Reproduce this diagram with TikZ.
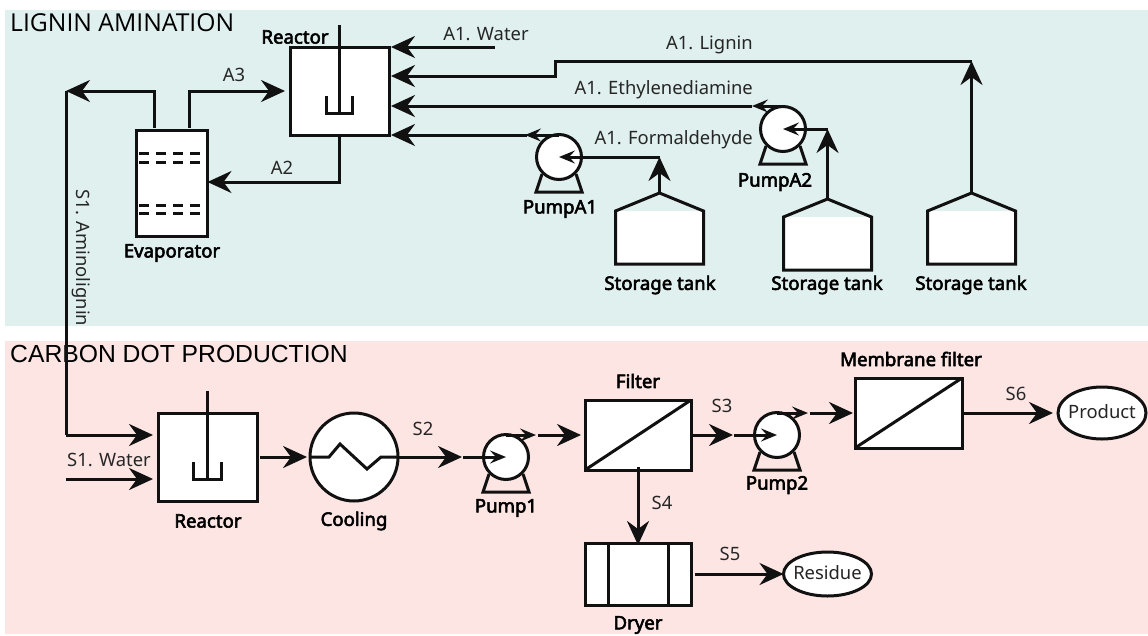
\documentclass[tikz,border=0pt]{standalone}
\usepackage{fontspec}
\setmainfont{Noto Sans}
\newfontfamily\namefont{Noto Sans}[FakeBold=3]
\newfontfamily\titleA{Open Sans}
\newfontfamily\titleB{Liberation Sans}
\usetikzlibrary{arrows.meta,calc,shapes.geometric}
\definecolor{bgA}{HTML}{E0F0EF}
\definecolor{bgB}{HTML}{FCE5E2}
\definecolor{ink}{HTML}{111111}
\tikzset{
  x=1pt,y=-1pt,
  line/.style={draw=ink,line width=3pt},
  flow/.style={line,-{Stealth[length=24pt,width=22pt,inset=8pt]}},
  smallflow/.style={line,-{Stealth[length=16pt,width=13pt,inset=6pt]}},
  unit/.style={draw=ink,line width=3pt,fill=white,inner sep=0pt,outer sep=0pt},
  boxunit/.style={unit,rectangle},
  pumpunit/.style={unit,circle,minimum size=45pt},
  lab/.style={inner sep=0pt,text=black!85,font=\fontsize{18.4}{20}\selectfont},
  name lab/.style={inner sep=0pt,text=black,font=\namefont\fontsize{18.6}{20}\selectfont},
  pumpfoot/.pic={\draw[line,line join=miter] (-17,17) -- (-23,35) -- (23,35) -- (17,17);},
  tankshape/.pic={
    \fill[white] (-44,18) rectangle (44,71);
    \draw[line,line join=miter] (-44,18) -- (0,0) -- (44,18) -- (44,71) -- (-44,71) -- cycle;},
}
\begin{document}
\begin{tikzpicture}
\useasboundingbox (0,0) rectangle (1148,635);
\fill[bgA] (5,10) rectangle (1148,326);
\fill[bgB] (5,341) rectangle (1148,634);

% section titles
\node[anchor=west,inner sep=0pt,font=\titleA\fontsize{24.7}{26}\selectfont] (t1) at (10,23) {LIGNIN AMINATION};
\node[anchor=west,inner sep=0pt,font=\titleB\fontsize{24.7}{26}\selectfont] (t2) at (10,354) {CARBON DOT PRODUCTION};

% ---------- lignin amination units
\node[boxunit,minimum width=99pt,minimum height=88pt] (r1) at (339.5,91) {};
\draw[line] (339,25) -- (339,113);
\draw[line] (326,96) -- (326,113) -- (352,113) -- (352,96);
\node[boxunit,minimum width=71pt,minimum height=106pt] (ev) at (172,183) {};
\foreach \yy in {153,162,205,213}
  \draw[line,dash pattern=on 10pt off 7pt] (139,\yy) -- (204,\yy);
\pic at (559,157) {pumpfoot};
\node[pumpunit] (pa1) at (559,157) {};
\pic at (783,129) {pumpfoot};
\node[pumpunit] (pa2) at (783,129) {};
\pic at (659.5,193) {tankshape};
\pic at (827.5,199) {tankshape};
\pic at (971.5,193) {tankshape};
\coordinate (tk1) at (659.5,193);
\coordinate (tk2) at (827.5,199);
\coordinate (tk3) at (971.5,193);

% ---------- lignin amination connectors
\coordinate (w0) at (495,47);
\coordinate (in1) at (391,47);
\coordinate (in2) at (391,76);
\coordinate (in3) at (391,106);
\coordinate (in4) at (391,135);
\coordinate (jog1) at (555,76);
\coordinate (jog2) at (555,61);
\coordinate (ligtop) at (971.5,61);
\coordinate (etend) at (752,106);
\coordinate (foend) at (527,135);
\coordinate (pa1top) at (559,135);
\coordinate (pa2top) at (783,106);
\coordinate (tk1top) at (659.5,157);
\coordinate (tk2top) at (827.5,129);
\coordinate (ev3) at (189,128);
\coordinate (ev4) at (154,128);
\coordinate (a3up) at (189,91);
\coordinate (a3end) at (285,91);
\coordinate (s1up) at (154,91);
\coordinate (s1corner) at (66,91);
\coordinate (s1low) at (66,435);
\coordinate (a2mid) at (339.5,182);

\draw[flow] (w0) -- (in1);
\draw[flow] (ligtop) -- (jog2) -- (jog1) -- (in2);
\draw[flow] (etend) -- (in3);
\draw[flow] (foend) -- (in4);
\draw[smallflow] (pa1top) -- ([xshift=-2pt]foend);
\draw[smallflow] (pa2top) -- (etend);
\draw[smallflow] (tk1top) -- (pa1.center);
\draw[smallflow] (tk2top) -- (pa2.center);
\draw[flow] (tk1) -- (tk1top);
\draw[flow] (tk2) -- (tk2top);
\draw[flow] (tk3) -- (ligtop);
\draw[flow] (r1.south) -- (a2mid) -- (ev.east |- a2mid);
\draw[flow] (ev3) -- (a3up) -- (a3end);
\draw[flow] (ev4) -- (s1up) -- (s1corner);

% ---------- carbon dot units
\node[boxunit,minimum width=99pt,minimum height=88pt] (r2) at (207.5,457) {};
\draw[line] (207,391) -- (207,479);
\draw[line] (193,462) -- (193,479) -- (221,479) -- (221,462);
\node[unit,circle,minimum size=88pt] (cool) at (354,457) {};
\draw[line] (cool.west) -- (329,457) -- (340,444) -- (367,469) -- (381,457) -- (cool.east);
\pic at (506,457) {pumpfoot};
\node[pumpunit] (p1) at (506,457) {};
\node[boxunit,minimum width=106pt,minimum height=70pt] (f1) at (638,435) {};
\draw[line] (f1.south west) -- (f1.north east);
\pic at (777,435) {pumpfoot};
\node[pumpunit] (p2) at (777,435) {};
\node[boxunit,minimum width=107pt,minimum height=70pt] (f2) at (908.5,413) {};
\draw[line] (f2.south west) -- (f2.north east);
\node[boxunit,minimum width=106pt,minimum height=62pt] (dry) at (638,574) {};
\draw[line] (608,543) -- (608,605);
\draw[line] (668,543) -- (668,605);
\node[unit,ellipse,minimum width=88pt,minimum height=52pt] (prod) at (1102,413) {};
\node[unit,ellipse,minimum width=88pt,minimum height=44pt] (res) at (827.5,574) {};
\node[lab] (prodt) at (1102,412) {Product};
\node[lab] (rest) at (827.5,573) {Residue};

% ---------- carbon dot connectors
\coordinate (w1) at (66,479);
\coordinate (r2a) at (153,435);
\coordinate (r2b) at (153,479);
\coordinate (s2b) at (462,457);
\coordinate (p1top) at (506,435);
\coordinate (p1out) at (536,435);
\coordinate (p1next) at (538,435);
\coordinate (s3b) at (733,435);
\coordinate (p2top) at (777,413);
\coordinate (p2out) at (808,413);
\coordinate (p2next) at (810,413);

\draw[line] (s1corner) -- (s1low);
\draw[flow] (s1low) -- (r2a);
\draw[flow] (w1) -- (r2b);
\draw[flow] ([xshift=3pt]r2.east) -- ([xshift=-3pt]cool.west);
\draw[flow] (cool.east) -- (s2b);
\draw[smallflow] ([xshift=1pt]s2b) -- (p1.center);
\draw[smallflow] (p1top) -- (p1out);
\draw[flow] (p1next) -- ([xshift=-4pt]f1.west);
\draw[flow] (f1.east) -- (s3b);
\draw[smallflow] ([xshift=1pt]s3b) -- (p2.center);
\draw[smallflow] (p2top) -- (p2out);
\draw[flow] (p2next) -- ([xshift=-2pt]f2.west);
\draw[flow] ([xshift=2pt]f2.east) -- ([xshift=-5pt]prod.west);
\draw[flow] ([yshift=3pt]f1.south) -- ([yshift=-2pt]dry.north);
\draw[flow] ([xshift=4pt]dry.east) -- (res.west);

% ---------- labels
\node[name lab] (n1) at (295,37) {Reactor};
\node[name lab] (n2) at (172,253) {Evaporator};
\node[name lab] (n3) at (560,209) {PumpA1};
\node[name lab] (n4) at (775,182) {PumpA2};
\node[name lab] (n5) at (660,285) {Storage tank};
\node[name lab] (n6) at (827,285) {Storage tank};
\node[name lab] (n7) at (971,285) {Storage tank};
\node[name lab] (n8) at (208,521) {Reactor};
\node[name lab] (n9) at (354,521) {Cooling};
\node[name lab] (n10) at (506,508) {Pump1};
\node[name lab] (n11) at (638,381) {Filter};
\node[name lab] (n12) at (777,485) {Pump2};
\node[name lab] (n13) at (911,359) {Membrane filter};
\node[name lab] (n14) at (638,625) {Dryer};

\node[lab] (l1) at (234,75) {A3};
\node[lab] (l2) at (282,168) {A2};
\node[lab] (l3) at (486,34) {A1. Water};
\node[lab,anchor=east] (l4) at (753,45) {A1. Lignin};
\node[lab,anchor=east] (l5) at (753,90) {A1. Ethylenediamine};
\node[lab,anchor=east] (l6) at (753,140) {A1. Formaldehyde};
\node[lab,rotate=-90] (l7) at (81,258) {S1. Aminolignin};
\node[lab] (l8) at (109,460) {S1. Water};
\node[lab] (l9) at (423,429) {S2};
\node[lab] (l10) at (722,406) {S3};
\node[lab] (l11) at (662,503) {S4};
\node[lab] (l12) at (730,554) {S5};
\node[lab] (l13) at (1016,394) {S6};
\end{tikzpicture}
\end{document}
